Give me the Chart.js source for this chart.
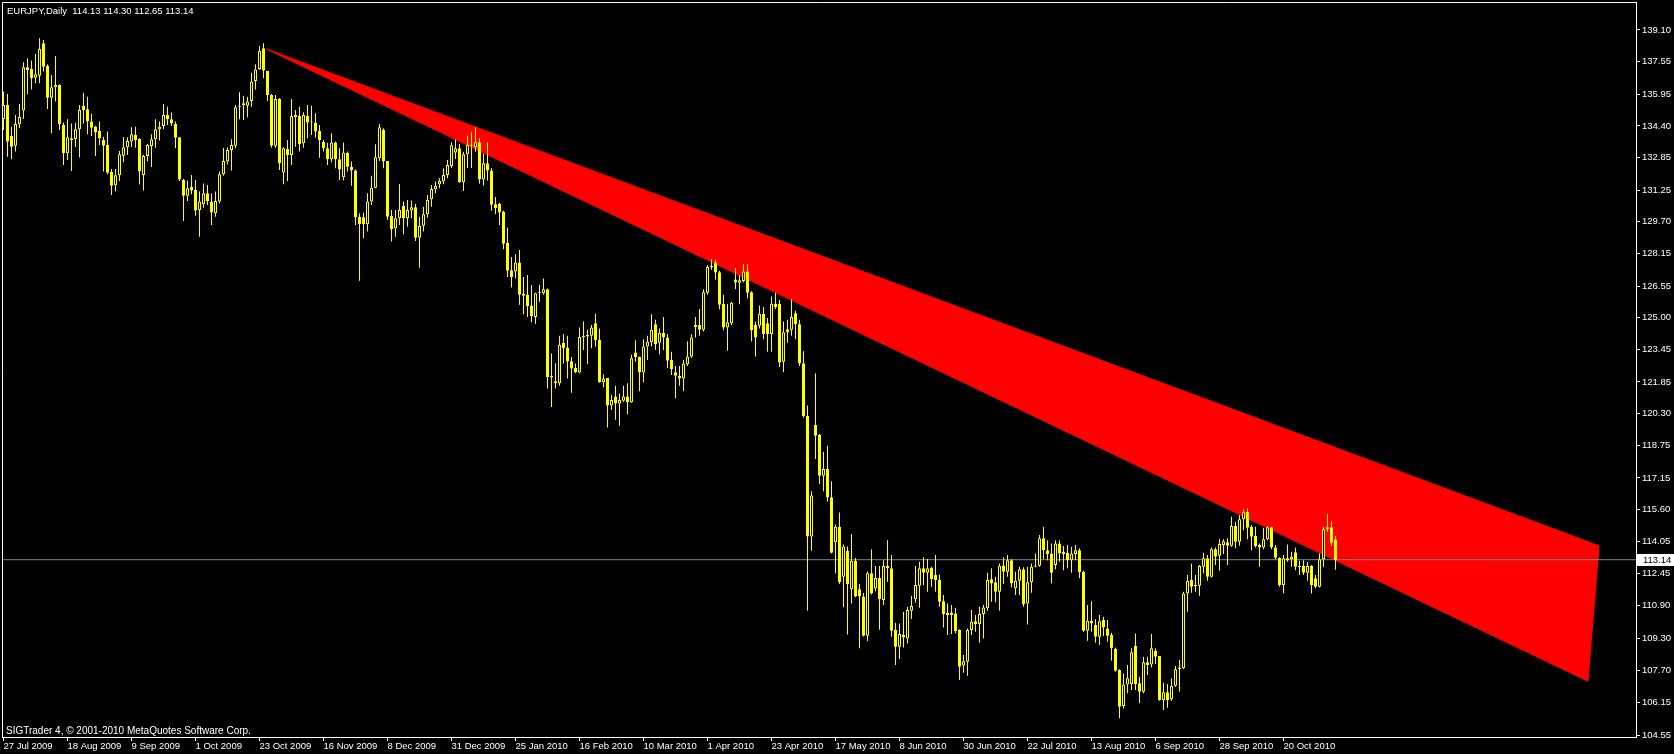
<!DOCTYPE html>
<html>
<head>
<meta charset="utf-8">
<title>EURJPY,Daily</title>
<script src="https://cdn.jsdelivr.net/npm/chart.js@4.4.1/dist/chart.umd.min.js"></script>
<style>
  html, body { margin: 0; padding: 0; background: #000; }
  #wrap { width: 1674px; height: 754px; }
</style>
</head>
<body>
<div id="wrap"><canvas id="chart" width="1674" height="754"></canvas></div>
<script>
// EURJPY daily candles, one bar per trading day from 27 Jul 2009

const symbol = 'EURJPY,Daily'

const opens = [
  134.74,135.42,133.90,133.43,134.48,135.15,137.27,137.19,136.76,136.86,
  138.45,137.34,135.78,136.29,136.40,134.44,133.06,133.79,133.76,134.23,
  135.38,135.21,134.61,134.36,134.15,133.71,133.46,132.14,131.49,131.98,
  132.94,133.35,133.63,133.95,133.76,131.99,132.92,133.42,133.74,134.23,
  134.40,134.93,134.72,134.49,133.84,131.75,130.98,131.41,131.26,130.28,
  130.56,131.10,130.69,130.12,130.69,132.03,132.65,133.22,133.43,135.34,
  135.42,135.39,135.62,136.60,137.19,138.20,137.09,135.91,133.43,135.72,
  132.12,133.27,132.97,134.82,134.88,133.55,134.90,134.62,134.57,134.15,
  133.61,133.30,132.76,133.59,132.76,131.88,133.07,132.40,132.21,129.95,
  129.92,129.58,130.69,131.37,132.81,134.20,132.68,129.98,129.38,129.87,
  130.47,129.87,130.26,130.41,128.92,129.51,130.07,130.80,131.29,131.54,
  131.67,131.99,132.43,133.10,133.31,131.64,133.01,133.43,133.36,133.60,
  131.77,132.57,132.22,130.56,130.59,130.21,128.67,127.32,127.27,127.71,
  126.17,126.13,125.60,125.03,126.20,126.20,126.39,122.14,121.89,121.79,
  123.77,123.54,122.87,122.54,122.31,124.12,124.08,124.12,124.73,123.91,
  121.84,122.05,120.70,121.14,120.79,120.93,121.14,120.86,123.29,123.07,
  122.31,123.59,123.80,124.68,123.77,124.26,124.03,122.93,122.33,122.14,
  122.02,122.72,123.10,124.55,124.64,124.41,126.22,127.53,127.71,127.23,
  125.69,124.52,124.73,126.87,126.71,126.80,127.27,126.25,124.64,124.61,
  125.20,124.73,124.20,125.69,125.69,122.84,124.43,124.41,125.22,124.68,
  122.77,120.18,114.28,119.74,119.27,117.25,117.59,116.20,114.00,114.75,
  112.30,113.58,111.69,113.09,111.69,111.34,109.41,112.48,111.73,112.25,
  111.16,112.83,112.72,109.69,108.88,109.45,109.28,110.64,111.20,111.87,
  112.72,112.50,112.75,112.39,112.14,111.11,110.54,110.54,110.51,109.69,
  107.95,108.14,109.69,110.13,109.99,110.48,110.76,112.18,112.03,111.57,
  112.86,112.55,113.12,111.74,112.11,112.67,111.00,112.03,112.80,112.85,
  114.19,113.61,113.45,112.88,113.94,113.53,113.48,113.12,113.42,113.61,
  112.55,109.66,110.15,109.94,109.37,110.18,109.77,109.45,108.76,107.73,
  105.97,107.03,107.05,108.91,107.08,106.67,108.12,108.01,108.68,108.42,
  106.26,106.64,106.30,106.96,107.77,107.82,111.49,112.14,111.90,111.87,
  112.80,113.21,112.31,113.65,113.34,113.86,114.00,113.83,114.79,114.02,
  115.12,115.49,114.76,114.30,113.86,113.74,114.14,114.73,113.74,113.22,
  111.90,113.21,113.16,113.50,112.83,112.83,112.50,112.83,112.23,111.82,
  113.16,114.63,114.73,114.13
]

const highs = [
  136.08,135.96,134.36,134.93,135.47,137.52,137.71,137.60,137.92,138.69,
  138.61,137.42,136.90,137.83,136.44,134.57,134.72,134.52,134.56,135.42,
  136.03,135.83,135.00,134.41,134.61,133.87,134.12,132.29,132.29,133.17,
  133.84,133.84,134.33,134.36,133.79,132.97,133.51,133.99,134.72,134.61,
  135.47,135.34,135.07,134.61,133.84,131.80,131.73,131.99,131.75,131.18,
  131.58,131.50,131.10,131.18,132.16,133.33,133.35,133.74,135.42,136.05,
  135.88,135.83,137.01,137.42,138.32,138.45,137.09,135.96,135.91,135.75,
  133.35,133.71,135.72,135.18,135.34,135.07,135.42,135.39,135.02,134.44,
  133.71,133.58,134.04,133.63,133.30,133.59,133.14,132.65,132.27,130.12,
  130.15,131.10,131.96,133.50,134.49,134.28,132.68,130.28,130.28,131.55,
  130.69,130.77,130.74,130.57,129.95,130.44,131.01,131.50,131.67,131.83,
  132.32,132.73,133.60,133.74,133.53,133.13,133.92,134.09,134.32,133.80,
  133.04,133.60,132.34,130.91,130.63,130.24,129.42,127.97,128.11,128.32,
  127.00,127.09,126.60,126.22,126.62,126.92,126.43,123.24,122.77,124.12,
  124.20,124.12,123.07,122.75,124.52,124.82,124.41,124.64,125.20,124.47,
  122.23,122.05,121.23,121.67,121.28,121.67,121.79,123.19,123.89,123.10,
  123.94,124.12,125.17,124.90,124.47,125.03,124.20,123.33,122.63,122.63,
  122.93,123.85,124.20,125.03,125.43,126.39,127.58,127.88,127.85,127.30,
  126.13,125.69,125.78,127.44,127.09,127.62,127.62,126.30,124.82,125.60,
  125.52,124.99,126.04,126.22,125.87,124.82,124.90,125.90,125.34,124.90,
  123.36,120.70,116.50,122.28,119.30,118.43,118.73,116.99,114.87,115.45,
  113.88,113.79,114.40,113.23,111.95,111.51,112.56,113.65,112.83,112.83,
  113.12,114.10,113.37,110.05,110.02,110.59,110.84,111.38,112.83,113.04,
  113.26,113.17,112.80,113.37,112.42,111.41,111.00,110.92,110.79,109.73,
  108.47,109.77,110.67,110.43,110.84,110.92,112.50,112.72,112.31,112.96,
  113.26,113.37,113.16,112.55,112.80,112.77,112.80,112.96,113.45,114.35,
  114.76,114.10,113.94,114.10,114.10,113.81,113.86,113.78,113.86,113.70,
  112.60,110.92,111.11,110.22,110.43,110.35,110.18,109.56,108.84,107.77,
  107.57,107.98,108.80,109.53,107.41,108.39,108.39,109.50,108.80,108.42,
  107.11,107.05,107.33,107.93,108.22,111.57,112.39,112.96,112.39,112.88,
  113.48,113.37,113.74,113.74,114.14,114.14,114.19,115.25,115.00,115.33,
  115.61,115.66,114.84,114.76,113.94,114.71,114.79,114.76,113.86,113.26,
  113.37,113.89,113.53,113.74,113.09,113.12,113.04,112.88,112.39,113.45,
  114.76,115.38,115.04,114.30
]

const lows = [
  134.20,132.89,132.76,133.14,134.28,134.74,135.95,136.19,136.49,136.49,
  137.06,135.23,134.04,135.59,134.20,132.48,132.73,132.19,133.37,132.86,
  134.52,133.99,133.90,132.92,133.46,132.16,132.03,131.01,131.18,131.70,
  132.62,132.97,133.37,133.33,131.54,131.23,132.65,132.39,133.33,133.68,
  134.23,134.44,134.40,133.30,131.70,129.74,130.72,131.05,130.00,128.97,
  130.39,130.52,129.54,129.95,130.60,131.96,132.52,132.21,133.30,134.72,
  134.69,134.82,135.34,136.19,137.14,136.73,135.62,133.33,133.33,132.24,
  131.54,131.70,132.48,133.38,133.14,133.33,133.79,133.95,133.82,132.84,
  133.14,132.48,132.62,132.32,131.75,131.72,132.16,131.47,129.54,126.81,
  128.89,129.22,130.52,131.34,132.68,132.32,129.79,128.73,128.97,129.54,
  129.09,129.46,129.87,128.76,127.45,129.22,129.90,130.44,131.10,131.34,
  131.54,131.83,132.34,132.78,131.61,131.21,132.34,132.34,133.13,131.56,
  131.47,131.73,130.24,130.07,129.54,128.35,127.00,126.48,126.92,125.64,
  125.17,125.03,124.78,124.69,125.78,126.13,121.53,120.62,121.53,121.67,
  122.75,122.02,121.32,122.28,122.28,123.42,122.72,123.50,123.59,121.81,
  121.58,119.62,120.48,120.00,119.71,120.88,120.27,120.83,122.84,121.40,
  121.84,122.93,123.59,123.42,123.21,123.42,122.54,122.19,121.05,121.67,
  121.40,122.63,123.03,124.03,124.12,124.33,126.13,127.35,126.86,125.40,
  124.38,123.38,124.64,126.39,125.66,126.74,125.95,123.85,123.10,124.47,
  123.94,123.33,123.33,125.43,122.58,122.33,123.77,124.12,123.94,122.63,
  120.10,110.64,113.58,118.08,116.85,116.50,115.98,113.44,112.48,111.95,
  110.81,109.47,110.99,111.30,108.80,109.38,109.15,111.43,111.60,109.71,
  110.92,112.06,109.37,107.98,108.27,108.84,109.04,110.23,111.03,110.79,
  111.90,111.57,111.82,111.57,110.84,109.82,109.45,109.50,109.53,107.24,
  107.60,107.45,109.45,109.61,109.07,109.28,110.64,111.08,111.05,110.64,
  111.95,112.31,111.78,111.41,111.41,110.84,109.97,111.52,112.77,112.80,
  113.16,113.12,111.98,112.67,113.04,112.63,112.72,112.50,113.12,112.23,
  109.61,109.17,109.61,109.07,108.96,109.40,109.12,108.19,107.65,105.37,
  105.85,106.59,106.75,106.75,106.10,106.59,107.49,107.86,108.03,106.23,
  105.77,105.89,106.23,106.92,106.67,107.78,110.59,111.52,111.57,111.38,
  112.47,112.11,112.27,112.88,112.60,113.42,112.88,113.78,113.70,113.83,
  114.59,114.14,113.61,113.74,112.80,113.65,114.10,113.65,113.16,111.82,
  111.49,113.04,112.80,112.63,112.39,112.39,112.11,111.49,111.74,111.78,
  112.77,114.51,113.81,112.65
]

const closes = [
  135.42,133.63,133.38,134.49,134.84,137.27,137.14,136.73,136.93,138.17,
  137.30,135.78,136.29,136.40,134.48,133.06,133.84,133.71,134.23,135.18,
  135.18,134.61,134.31,134.08,133.79,133.43,132.11,131.47,131.98,133.01,
  133.35,133.66,133.99,133.71,132.16,132.92,133.46,133.74,134.23,134.36,
  134.93,134.72,134.52,133.82,131.77,130.98,131.34,131.24,130.25,130.69,
  131.10,130.72,130.15,130.72,132.03,132.68,133.22,133.46,135.31,135.34,
  135.51,135.59,136.57,137.17,138.07,137.11,135.91,133.43,135.72,132.57,
  133.30,132.97,134.88,134.93,133.50,134.93,134.57,134.57,134.12,133.71,
  133.30,132.76,133.59,132.76,132.26,133.10,132.40,132.21,129.92,129.59,
  129.58,130.69,131.37,132.86,134.33,132.65,129.95,129.33,129.87,130.28,
  129.87,130.28,130.41,128.92,129.50,130.07,130.77,131.31,131.47,131.70,
  131.99,132.48,133.45,133.31,131.64,133.01,133.48,133.48,133.60,131.77,
  132.57,132.22,130.54,130.38,130.15,128.63,127.30,127.00,127.71,126.13,
  126.08,125.57,125.08,126.20,126.20,126.39,122.10,122.07,121.79,123.68,
  123.50,122.86,122.51,122.33,124.06,124.06,124.15,124.52,123.89,121.84,
  122.02,120.70,120.97,120.79,120.97,121.14,120.86,123.01,123.07,122.31,
  123.59,123.82,124.41,123.71,124.26,124.03,122.89,122.49,122.16,122.02,
  122.75,123.10,124.03,124.64,124.41,126.25,127.49,127.48,127.21,125.64,
  124.52,124.78,125.73,126.72,126.83,127.27,126.22,124.38,124.03,125.20,
  124.20,124.20,125.69,125.52,122.80,124.29,124.28,125.03,124.68,122.75,
  120.18,114.28,116.29,119.21,117.25,117.59,116.19,113.48,114.75,112.04,
  113.79,111.95,113.09,111.34,111.34,109.41,112.48,111.48,112.25,111.20,
  112.83,112.72,109.66,108.88,109.50,109.33,110.67,110.87,111.90,112.72,
  112.50,112.72,112.19,112.14,111.08,110.48,110.43,110.43,109.64,107.90,
  108.17,109.69,110.10,109.99,110.48,110.80,112.14,111.98,111.57,112.85,
  112.55,113.12,111.98,112.11,112.67,110.95,112.03,112.80,112.85,114.19,
  113.61,113.42,112.50,113.94,113.45,113.42,113.12,113.45,113.61,112.52,
  109.66,110.15,110.02,109.37,110.12,109.82,109.42,108.80,107.70,105.94,
  107.03,107.33,108.60,107.05,106.67,108.11,107.98,108.80,108.39,106.26,
  106.64,106.26,106.96,107.77,107.86,111.49,112.11,111.82,111.85,112.83,
  113.21,112.31,113.65,113.29,113.91,114.05,113.83,114.79,114.02,115.12,
  115.49,114.71,114.27,113.81,113.74,114.14,114.73,113.74,113.24,111.90,
  113.21,113.12,113.29,112.80,112.77,112.50,112.83,111.90,111.82,113.16,
  114.63,114.73,113.97,113.14
]

// date under every 16th bar
const xTickLabels = [
  '27 Jul 2009', '18 Aug 2009', '9 Sep 2009', '1 Oct 2009', '23 Oct 2009',
  '16 Nov 2009', '8 Dec 2009', '31 Dec 2009', '25 Jan 2010', '16 Feb 2010',
  '10 Mar 2010', '1 Apr 2010', '23 Apr 2010', '17 May 2010', '8 Jun 2010',
  '30 Jun 2010', '22 Jul 2010', '13 Aug 2010', '6 Sep 2010', '28 Sep 2010',
  '20 Oct 2010'
]
const xTickStep = 16

const yTicks = [
  139.10, 137.55, 135.95, 134.40, 132.85, 131.25, 129.70, 128.15, 126.55, 125.00,
  123.45, 121.85, 120.30, 118.75, 117.15, 115.60, 114.05, 112.45, 110.90, 109.30,
  107.70, 106.15, 104.55
]

// triangle object on the chart: [bar index, price]
const triangle = [[65.7, 138.17], [398.9, 113.82], [396.1, 107.19]]

const xMin = -0.375, xMax = 408.125
const yMin = 104.452, yMax = 140.472

const last = opens.length - 1
const lastClose = closes[last]

const candleLine = closes.map((c, i) => c === opens[i] ? '#ffffff' : '#ffff00')
const bodyFill = closes.map((c, i) => c > opens[i] ? '#000000' : (c < opens[i] ? '#ffff00' : '#ffffff'))

Chart.defaults.font.family = '"Liberation Sans", Arial, sans-serif'
Chart.defaults.font.size = 9.5

// frame, header line, copyright and the bid price tag
const extras = {
  id: 'extras',
  afterDraw(chart) {
    const { ctx, chartArea: a, scales: { y } } = chart
    ctx.save()
    ctx.strokeStyle = '#ffffff'
    ctx.lineWidth = 1
    ctx.beginPath()
    ctx.moveTo(a.left + 0.5, a.bottom)
    ctx.lineTo(a.left + 0.5, a.top + 0.5)
    ctx.lineTo(a.right, a.top + 0.5)
    ctx.stroke()

    ctx.textBaseline = 'middle'
    ctx.fillStyle = '#ffffff'
    const ohlc = [opens[last], highs[last], lows[last], closes[last]].map(v => v.toFixed(2)).join(' ')
    ctx.font = '9.5px "Liberation Sans", Arial, sans-serif'
    ctx.fillText(symbol + '  ' + ohlc, 7, 11)
    ctx.font = '10px "Liberation Sans", Arial, sans-serif'
    ctx.fillText('SIGTrader 4, \u00a9 2001-2010 MetaQuotes Software Corp.', 6, 731)

    ctx.font = '9.5px "Liberation Sans", Arial, sans-serif'
    const py = Math.round(y.getPixelForValue(lastClose))
    ctx.fillStyle = '#ffffff'
    ctx.fillRect(a.right + 1, py - 6, 40, 12)
    ctx.fillStyle = '#000000'
    ctx.fillText(lastClose.toFixed(2), a.right + 7, py)
    ctx.restore()
  }
}

const ctx = document.getElementById('chart').getContext('2d')
const chart = new Chart(ctx, {
  type: 'bar',
  data: {
    datasets: [
      {
        type: 'line',
        label: 'triangle',
        data: [...triangle, triangle[0]].map(p => ({ x: p[0], y: p[1] })),
        borderColor: '#ff0000',
        borderWidth: 1,
        backgroundColor: '#ff0000',
        fill: 'shape',
        pointRadius: 0,
        tension: 0,
        order: 4
      },
      {
        type: 'line',
        label: 'bid',
        data: [{ x: xMin, y: lastClose }, { x: xMax, y: lastClose }],
        borderColor: '#778899',
        borderWidth: 1,
        pointRadius: 0,
        fill: false,
        order: 3
      },
      {
        type: 'bar',
        label: 'wicks',
        data: highs.map((h, i) => ({ x: i, y: [lows[i], h] })),
        backgroundColor: candleLine,
        borderWidth: 0,
        barThickness: 1,
        grouped: false,
        inflateAmount: 0,
        order: 2
      },
      {
        type: 'bar',
        label: 'bodies',
        data: opens.map((o, i) => ({ x: i, y: [o, closes[i]] })),
        backgroundColor: bodyFill,
        borderColor: candleLine,
        borderWidth: 1,
        borderSkipped: false,
        barThickness: 3,
        minBarLength: 1,
        grouped: false,
        inflateAmount: 0,
        order: 1
      }
    ]
  },
  options: {
    responsive: false,
    animation: false,
    events: [],
    layout: { padding: { left: 2, top: 2, right: 0, bottom: 0 }, autoPadding: false },
    plugins: {
      legend: { display: false },
      tooltip: { enabled: false }
    },
    scales: {
      x: {
        type: 'linear',
        min: xMin,
        max: xMax,
        offset: false,
        afterBuildTicks: s => { s.ticks = xTickLabels.map((_, k) => ({ value: k * xTickStep })) },
        afterFit: s => { s.height = 17; s.paddingLeft = 0; s.paddingRight = 0 },
        ticks: {
          autoSkip: false,
          maxRotation: 0,
          align: 'start',
          padding: 0,
          color: '#ffffff',
          callback: v => xTickLabels[Math.round(v / xTickStep)]
        },
        grid: { offset: false, drawOnChartArea: false, drawTicks: true, tickLength: 4, color: '#ffffff' },
        border: { display: true, color: '#ffffff' }
      },
      y: {
        type: 'linear',
        position: 'right',
        min: yMin,
        max: yMax,
        beginAtZero: false,
        afterBuildTicks: s => { s.ticks = yTicks.map(v => ({ value: v })) },
        afterFit: s => { s.width = 38; s.paddingTop = 0; s.paddingBottom = 0 },
        ticks: {
          autoSkip: false,
          padding: 2,
          color: '#ffffff',
          callback: v => v.toFixed(2)
        },
        grid: { drawOnChartArea: false, drawTicks: true, tickLength: 4, color: '#ffffff' },
        border: { display: true, color: '#ffffff' }
      }
    }
  },
  plugins: [extras]
})
</script>
</body>
</html>
